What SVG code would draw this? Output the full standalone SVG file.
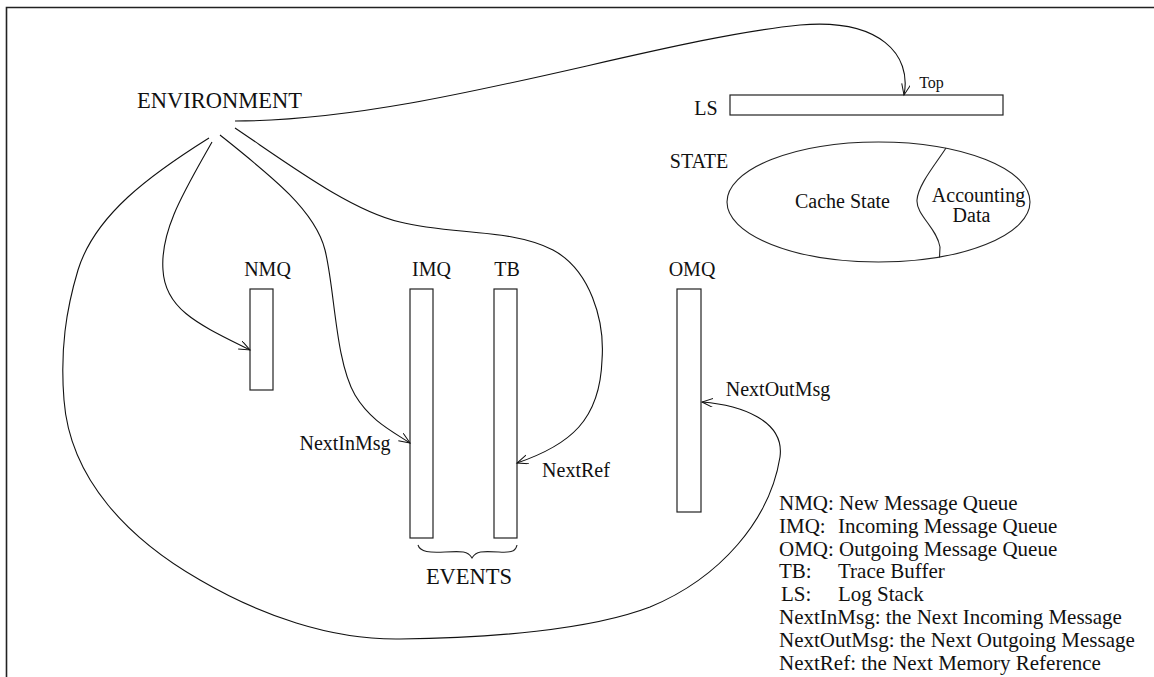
<svg xmlns="http://www.w3.org/2000/svg" width="1154" height="677" viewBox="0 0 1154 677">
<style>
text{font-family:"Liberation Serif","Times New Roman",serif;fill:#111;}
.lbl{font-size:20px;text-anchor:middle;}
.big{font-size:22.5px;text-anchor:middle;}
.leg{font-size:21px;}
.box{fill:#fff;stroke:#222;stroke-width:1.2;}
.wire{fill:none;stroke:#111;stroke-width:1.1;}
</style>
<defs>
<marker id="arr" markerUnits="userSpaceOnUse" markerWidth="14" markerHeight="10" refX="11" refY="4.5" orient="auto">
<path d="M0,0 L11,4.5 L0,9" fill="none" stroke="#111" stroke-width="1"/>
</marker>
</defs>
<rect width="1154" height="677" fill="#fff"/>
<g id="frame">
<path d="M1154,7.5 L6.5,7.5 L6.5,677" fill="none" stroke="#222" stroke-width="1.6"/>
</g>
<g id="environment"><text class="big" x="219.5" y="108">ENVIRONMENT</text></g>
<g id="ls">
<text class="lbl" x="706" y="115">LS</text>
<rect class="box" x="730" y="95" width="273" height="20"/>
<text x="931.5" y="88" style="font-size:16px;text-anchor:middle">Top</text>
</g>
<g id="state">
<text class="lbl" x="699" y="168">STATE</text>
<ellipse cx="878.5" cy="202" rx="151.5" ry="60" fill="none" stroke="#222" stroke-width="1.1"/>
<path d="M946,148 C935,165 918,185 917,200 C916,215 937,228 940,247 L939.5,257.5" fill="none" stroke="#222" stroke-width="1.1"/>
<text class="lbl" x="842.5" y="208">Cache State</text>
<text class="lbl" x="978.5" y="202">Accounting</text>
<text class="lbl" x="971.5" y="222">Data</text>
</g>
<g id="nmq">
<text class="lbl" x="267.5" y="276">NMQ</text>
<rect class="box" x="250" y="289" width="23" height="101"/>
</g>
<g id="imq">
<text class="lbl" x="431.5" y="276">IMQ</text>
<rect class="box" x="410" y="289" width="23" height="249"/>
</g>
<g id="tb">
<text class="lbl" x="507" y="276">TB</text>
<rect class="box" x="494" y="289" width="23" height="249"/>
</g>
<g id="omq">
<text class="lbl" x="692" y="276">OMQ</text>
<rect class="box" x="677" y="289" width="24" height="223"/>
</g>
<g id="events">
<path d="M418,545 C420,552 430,553 445,552 C462,551 468,551 472,558 C476,551 482,551 499,552 C514,553 516,550 517,545" fill="none" stroke="#222" stroke-width="1.1"/>
<text class="big" x="469" y="584">EVENTS</text>
</g>
<g id="connectors">
<path class="wire" marker-end="url(#arr)" d="M235,121 C420,121 650,40 800,25 C880,18 912,55 904,95"/>
<path class="wire" marker-end="url(#arr)" d="M212,142 C185,190 160,230 163,270 C165,310 200,325 250,350"/>
<path class="wire" marker-end="url(#arr)" d="M220,135 C270,175 315,210 325,250 C335,290 335,360 355,395 C370,420 390,430 410,443"/>
<path class="wire" marker-end="url(#arr)" d="M235,128 C290,165 350,210 400,222 C450,235 510,228 553,250 C590,270 605,320 602,360 C600,420 570,445 517,463"/>
<path class="wire" marker-end="url(#arr)" d="M209,138 C150,175 95,215 78,270 C66,310 60,350 64,400 C70,480 130,540 200,580 C260,615 330,640 400,639 C490,638 590,630 650,607 C720,578 770,520 780,457 C785,420 740,405 702,402"/>
</g>
<g id="edge-labels">
<text class="lbl" x="345" y="450">NextInMsg</text>
<text class="lbl" x="576" y="477">NextRef</text>
<text class="lbl" x="778" y="396">NextOutMsg</text>
</g>
<g id="legend">
<text class="leg" x="779" y="510">NMQ: New Message Queue</text>
<text class="leg" x="779" y="533">IMQ:<tspan x="838">Incoming Message Queue</tspan></text>
<text class="leg" x="779" y="556">OMQ: Outgoing Message Queue</text>
<text class="leg" x="779" y="578">TB:<tspan x="838">Trace Buffer</tspan></text>
<text class="leg" x="781" y="601">LS:<tspan x="838">Log Stack</tspan></text>
<text class="leg" x="779" y="624">NextInMsg: the Next Incoming Message</text>
<text class="leg" x="779" y="647">NextOutMsg: the Next Outgoing Message</text>
<text class="leg" x="779" y="670">NextRef: the Next Memory Reference</text>
</g>
</svg>
